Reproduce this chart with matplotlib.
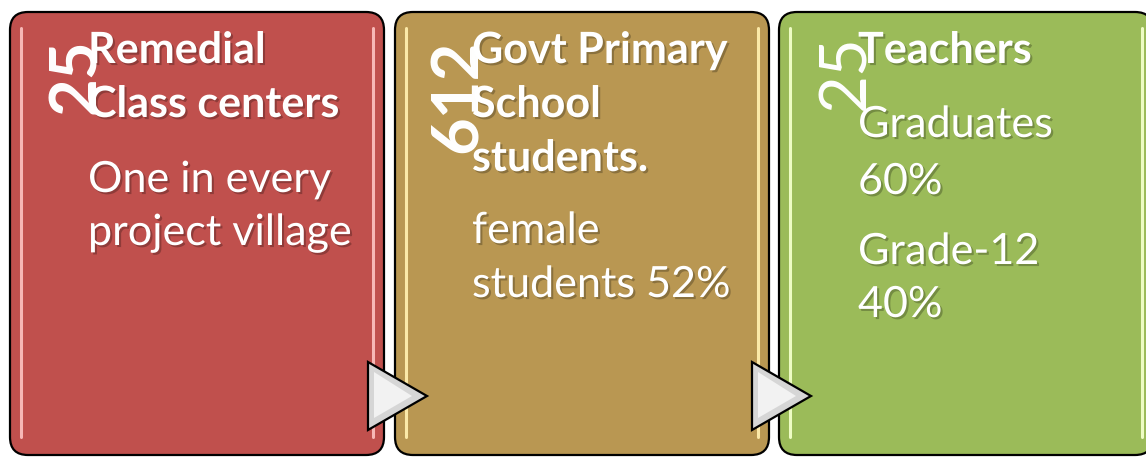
import matplotlib
matplotlib.use("Agg")
import matplotlib.pyplot as plt
import matplotlib.patheffects as pe
from matplotlib.patches import FancyBboxPatch, Polygon

# data
counts = ["25", "612", "25"]
count_bold = [True, True, False]
titles = [["Remedial", "Class centers"],
          ["Govt Primary", "School", "students."],
          ["Teachers"]]
details = [["One in every", "project village"],
           ["female", "students 52%"],
           ["Graduates", "60%", "Grade-12", "40%"]]
fills = ["#C0504D", "#B99752", "#9BBB59"]
glints = ["#F7B8B6", "#FBE9A8", "#EEFCC4"]

# layout, in pixels of the 1146x457 picture
W, H = 1146, 457
box_left = [10, 395, 779]
box_w = 374
box_top = 12
box_bottom = 455
title_base = 63
title_step = 54
detail_base = [192, 243, 137]
detail_step = [53, 54, [0, 57, 127, 180]]
text_x = [88, 472, 858]
count_xy = [(76, 76), (458, 96), (846, 72)]

fig = plt.figure(figsize=(W / 100, H / 100), dpi=100)
ax = fig.add_axes([0, 0, 1, 1])
ax.set_xlim(0, W)
ax.set_ylim(H, 0)
ax.axis("off")

shadow = [pe.withSimplePatchShadow(offset=(1.5, -1.5), shadow_rgbFace="k", alpha=0.25)]
font = "Lato"

for i in range(3):
    x0 = box_left[i]
    ax.add_patch(FancyBboxPatch((x0, box_top), box_w, box_bottom - box_top,
                                boxstyle="round,pad=0,rounding_size=18",
                                facecolor=fills[i], edgecolor="black", lw=1.6, zorder=1))
    # glossy edge lines
    for gx in (x0 + 11, x0 + box_w - 11):
        ax.plot([gx, gx], [box_top + 16, box_bottom - 18], color=glints[i], lw=2.2,
                solid_capstyle="round", zorder=2)

    for j, t in enumerate(titles[i]):
        ax.text(text_x[i], title_base + j * title_step, t, color="white", fontsize=31,
                fontweight="bold", family=font, va="baseline", ha="left",
                path_effects=shadow, zorder=5)
    for j, t in enumerate(details[i]):
        if i == 2:
            y = detail_base[i] + detail_step[i][j]
        else:
            y = detail_base[i] + j * detail_step[i]
        ax.text(text_x[i], y, t, color="white", fontsize=31, family=font,
                va="baseline", ha="left", path_effects=shadow, zorder=5)

    cx, cy = count_xy[i]
    ax.text(cx, cy, counts[i], color="white", fontsize=47, family=font,
            fontweight="bold" if count_bold[i] else "normal",
            rotation=90, ha="center", va="center", zorder=6)

# arrows between boxes
for ax_left in (368, 752):
    tri = Polygon([(ax_left, 362), (ax_left + 59, 396), (ax_left, 430)], closed=True,
                  facecolor="#D6D6D6", edgecolor="black", lw=1.6, zorder=7)
    ax.add_patch(tri)
    inner = Polygon([(ax_left + 6, 372), (ax_left + 44, 396), (ax_left + 6, 418)], closed=True,
                    facecolor="#F2F2F2", edgecolor="none", zorder=8)
    ax.add_patch(inner)

fig.savefig("out.png", dpi=100)
